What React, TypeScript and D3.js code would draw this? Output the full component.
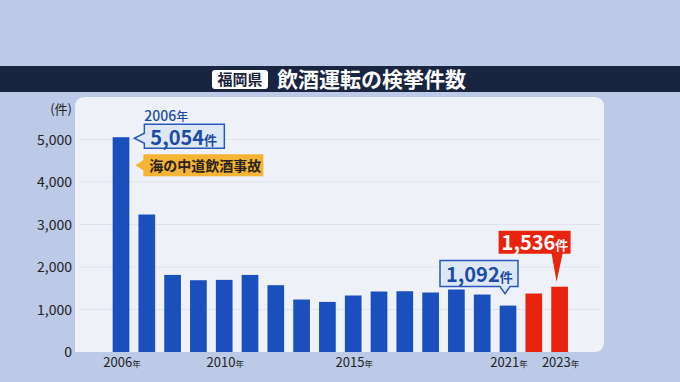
import React from "react";
import * as d3 from "d3";

const years = [2006, 2007, 2008, 2009, 2010, 2011, 2012, 2013, 2014, 2015, 2016, 2017, 2018, 2019, 2020, 2021, 2022, 2023];
const counts = [5054, 3235, 1814, 1689, 1697, 1814, 1572, 1235, 1179, 1329, 1423, 1430, 1400, 1470, 1352, 1092, 1376, 1536];
const redYears = [2022, 2023];
const yTicks = [0, 1000, 2000, 3000, 4000, 5000];
const xLabelYears = [2006, 2010, 2015, 2021, 2023];
const titleTag = "福岡県";
const titleText = "飲酒運転の検挙件数";
const unitLabel = "(件)";
const eventLabel = "海の中道飲酒事故";

const W = 680;
const H = 382;
const FONT = "'Noto Sans CJK JP', 'Noto Sans', sans-serif";
const BLUE = "#1b4fbd";
const RED = "#e8240f";
const TEXT_BLUE = "#1d4aa6";

export default function App() {
  const x = d3
    .scaleBand<number>()
    .domain(years)
    .range([108.1, 572.5])
    .paddingInner(0.353)
    .paddingOuter(0.1765);
  const y = d3.scaleLinear().domain([0, 5000]).range([352, 139.5]);
  const bw = x.bandwidth();
  const fmt = d3.format(",");

  const panelL = 75, panelR = 604, panelT = 97, panelB = 352;

  const first = years[0];
  const fx = (x(first) as number) + bw;
  const fy = y(counts[0]);
  const i21 = years.indexOf(2021);
  const c21x = (x(2021) as number) + bw / 2;
  const c21y = y(counts[i21]);
  const i23 = years.indexOf(2023);
  const c23x = (x(2023) as number) + bw / 2;
  const c23y = y(counts[i23]);

  // 5,054 callout (left pointer)
  const b1 = { l: fx + 15, t: fy - 13, w: 80, h: 24 };
  const tip1 = { x: fx + 5, y: fy + 1 };
  const p1 = d3.path();
  p1.moveTo(b1.l, b1.t);
  p1.lineTo(b1.l + b1.w, b1.t);
  p1.lineTo(b1.l + b1.w, b1.t + b1.h);
  p1.lineTo(b1.l, b1.t + b1.h);
  p1.lineTo(b1.l, tip1.y + 5);
  p1.lineTo(tip1.x, tip1.y);
  p1.lineTo(b1.l, tip1.y - 5);
  p1.closePath();

  // orange event label
  const b2 = { l: fx + 14, t: fy + 17, w: 120, h: 22 };
  const tip2 = { x: fx + 6, y: b2.t + 11 };
  const p2 = d3.path();
  p2.moveTo(b2.l, b2.t);
  p2.lineTo(b2.l + b2.w, b2.t);
  p2.lineTo(b2.l + b2.w, b2.t + b2.h);
  p2.lineTo(b2.l, b2.t + b2.h);
  p2.lineTo(b2.l, tip2.y + 5);
  p2.lineTo(tip2.x, tip2.y);
  p2.lineTo(b2.l, tip2.y - 5);
  p2.closePath();

  // 1,092 callout (down pointer)
  const b3 = { l: c21x - 68, t: c21y - 45, w: 78, h: 26 };
  const tip3 = { x: c21x - 3, y: c21y - 12 };
  const p3 = d3.path();
  p3.moveTo(b3.l, b3.t);
  p3.lineTo(b3.l + b3.w, b3.t);
  p3.lineTo(b3.l + b3.w, b3.t + b3.h);
  p3.lineTo(tip3.x + 5, b3.t + b3.h);
  p3.lineTo(tip3.x, tip3.y);
  p3.lineTo(tip3.x - 5, b3.t + b3.h);
  p3.lineTo(b3.l, b3.t + b3.h);
  p3.closePath();

  // 1,536 callout (red, down pointer)
  const b4 = { l: c23x - 61, t: c23y - 56, w: 72, h: 23 };
  const tip4 = { x: c23x - 3, y: c23y - 5 };
  const p4 = d3.path();
  p4.moveTo(b4.l, b4.t);
  p4.lineTo(b4.l + b4.w, b4.t);
  p4.lineTo(b4.l + b4.w, b4.t + b4.h);
  p4.lineTo(tip4.x + 6, b4.t + b4.h);
  p4.lineTo(tip4.x, tip4.y);
  p4.lineTo(tip4.x - 5, b4.t + b4.h);
  p4.lineTo(b4.l, b4.t + b4.h);
  p4.closePath();

  const panelPath = `M${panelL},${panelB} L${panelL},${panelT + 10} Q${panelL},${panelT} ${panelL + 10},${panelT} L${panelR - 10},${panelT} Q${panelR},${panelT} ${panelR},${panelT + 10} L${panelR},${panelB - 10} Q${panelR},${panelB} ${panelR - 10},${panelB} Z`;

  return (
    <svg
      width={W}
      height={H}
      viewBox={`0 0 ${W} ${H}`}
      style={{ position: "absolute", left: 0, top: 0, fontFamily: FONT }}
    >
      <rect x={0} y={0} width={W} height={H} fill="#bccae8" />
      <rect x={0} y={66} width={W} height={26} fill="#192440" />
      <rect x={212} y={70} width={56} height={19} rx={3} fill="#ffffff" />
      <text x={240} y={85} textAnchor="middle" fontSize={15} fontWeight={700} fill="#192440">
        {titleTag}
      </text>
      <text x={277} y={87} fontSize={21} fontWeight={700} fill="#ffffff">
        {titleText}
      </text>

      <path d={panelPath} fill="#eef1f7" />
      {yTicks.filter((t) => t > 0).map((t) => (
        <line key={t} x1={80} x2={600} y1={y(t)} y2={y(t)} stroke="#dfe3ec" strokeWidth={1} />
      ))}

      <text x={72} y={114} textAnchor="end" fontSize={13} fill="#222">
        {unitLabel}
      </text>
      {yTicks.map((t) => (
        <text key={t} x={72} y={y(t) + 5} textAnchor="end" fontSize={14} fill="#222">
          {fmt(t)}
        </text>
      ))}

      {years.map((yr, i) => (
        <rect
          key={yr}
          x={x(yr)}
          y={y(counts[i])}
          width={bw}
          height={y(0) - y(counts[i])}
          fill={redYears.includes(yr) ? RED : BLUE}
        />
      ))}

      {xLabelYears.map((yr) => (
        <text
          key={yr}
          x={(x(yr) as number) + bw / 2 + 1}
          y={367}
          textAnchor="middle"
          fontSize={13}
          fill="#222"
        >
          {yr}
          <tspan fontSize={8.5}>年</tspan>
        </text>
      ))}

      <text x={b1.l} y={b1.t - 3.5} fontSize={14} fontWeight={500} fill={TEXT_BLUE}>
        {first}
        <tspan fontSize={12}>年</tspan>
      </text>
      <path d={p1.toString()} fill="#dde7f7" stroke="#2a58bd" strokeWidth={1.5} />
      <text x={b1.l + 6} y={b1.t + 20.5} fontSize={20} fontWeight={700} fill={TEXT_BLUE}>
        {fmt(counts[0])}
        <tspan fontSize={13}>件</tspan>
      </text>
      <path d={p2.toString()} fill="#f6b434" />
      <text x={b2.l + 6} y={b2.t + 17} fontSize={14} fontWeight={700} fill="#2a2416">
        {eventLabel}
      </text>

      <path d={p3.toString()} fill="#dde7f7" stroke="#2a58bd" strokeWidth={1.5} />
      <text x={b3.l + 6} y={b3.t + 21} fontSize={20} fontWeight={700} fill={TEXT_BLUE}>
        {fmt(counts[i21])}
        <tspan fontSize={13}>件</tspan>
      </text>

      <path d={p4.toString()} fill={RED} />
      <text x={b4.l + 3} y={b4.t + 19} fontSize={20} fontWeight={700} fill="#ffffff">
        {fmt(counts[i23])}
        <tspan fontSize={13}>件</tspan>
      </text>
    </svg>
  );
}
